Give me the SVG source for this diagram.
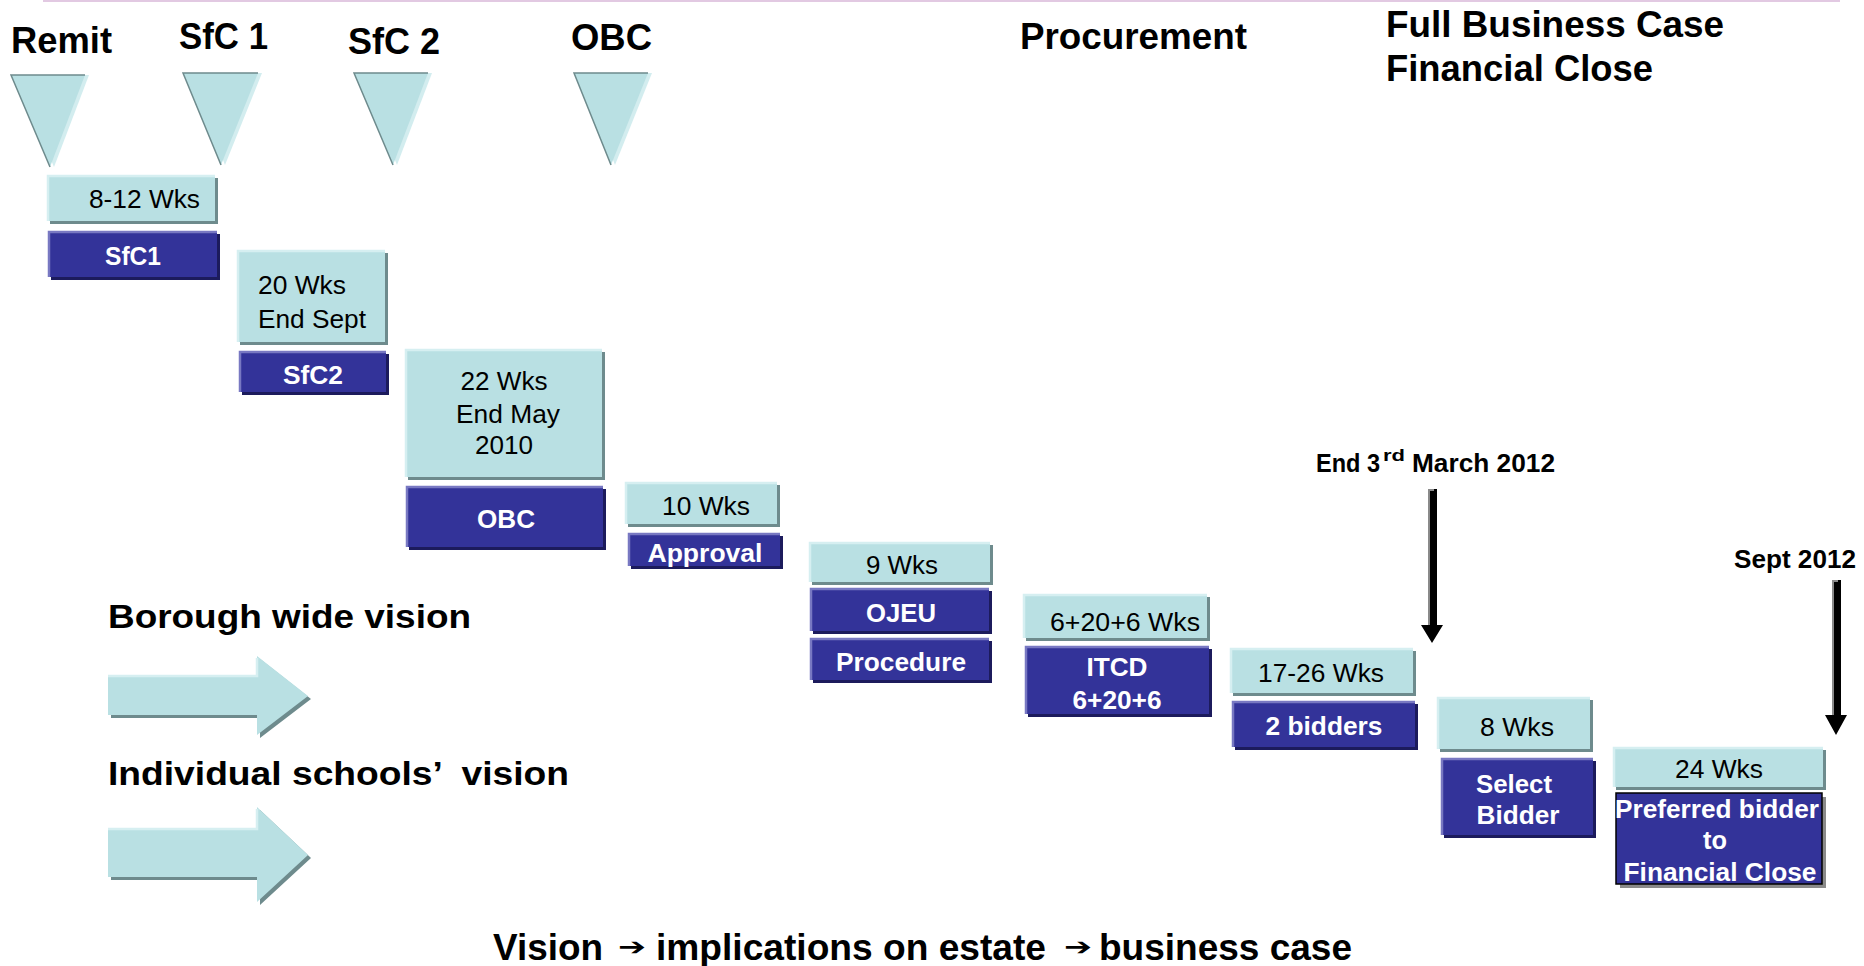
<svg xmlns="http://www.w3.org/2000/svg" width="1864" height="966" viewBox="0 0 1864 966">
<style>
text{font-family:"Liberation Sans",Arial,Helvetica,sans-serif;}
.t{font-size:36px;font-weight:bold;fill:#000;}
.lw{font-size:26px;fill:#000;}
.dw{font-size:26px;font-weight:bold;fill:#fff;}
.mk{font-size:25px;font-weight:bold;fill:#000;}
.vs{font-size:34px;font-weight:bold;fill:#000;}
.bt{font-size:37px;font-weight:bold;fill:#000;}
.ar{font-family:"DejaVu Sans",sans-serif;font-size:24px;fill:#000;}
.lf{fill:#b9e0e3;}
.ls{fill:#6e8b8d;}
.lh{fill:none;stroke:#d6eff1;stroke-width:2.5;}
.df{fill:#333399;}
.ds{fill:#1c1b5c;}
.dh{fill:none;stroke:#7878c2;stroke-width:2.5;}
.tri{fill:#b9e0e3;}
.trs{fill:#d3edef;}
.tre{fill:none;stroke:#6e8b8d;stroke-width:1.5;}
.blk{fill:#000;}
.bhl{fill:none;stroke:#8a8a8a;stroke-width:2;}
</style>

<line x1="43" y1="1" x2="1840" y2="1" stroke="#e2c9e2" stroke-width="2"/>

<g id="headers">
<text class="t" x="11" y="53" textLength="101" lengthAdjust="spacingAndGlyphs">Remit</text>
<text class="t" x="179" y="49" textLength="89" lengthAdjust="spacingAndGlyphs">SfC 1</text>
<text class="t" x="348" y="54" textLength="92" lengthAdjust="spacingAndGlyphs">SfC 2</text>
<text class="t" x="571" y="50" textLength="81" lengthAdjust="spacingAndGlyphs">OBC</text>
<text class="t" x="1020" y="49" textLength="227" lengthAdjust="spacingAndGlyphs">Procurement</text>
<text class="t" x="1386" y="37" textLength="338" lengthAdjust="spacingAndGlyphs">Full Business Case</text>
<text class="t" x="1386" y="81" textLength="267" lengthAdjust="spacingAndGlyphs">Financial Close</text>
</g>

<g id="tri-remit">
<polygon class="trs" points="15,75 89,75 54,167"/>
<polygon class="tri" points="11,75 85,75 50,167"/>
<polyline class="tre" points="85,75 11,75 50,167"/>
</g>
<g id="tri-sfc1">
<polygon class="trs" points="187,73 262,73 225,165"/>
<polygon class="tri" points="183,73 258,73 221,165"/>
<polyline class="tre" points="258,73 183,73 221,165"/>
</g>
<g id="tri-sfc2">
<polygon class="trs" points="358,73 432,73 397,165"/>
<polygon class="tri" points="354,73 428,73 393,165"/>
<polyline class="tre" points="428,73 354,73 393,165"/>
</g>
<g id="tri-obc">
<polygon class="trs" points="578,73 652,73 615,165"/>
<polygon class="tri" points="574,73 648,73 611,165"/>
<polyline class="tre" points="648,73 574,73 611,165"/>
</g>

<g id="box-8-12wks">
<rect class="ls" x="50" y="178" width="168" height="46"/>
<rect class="lf" x="47" y="175" width="168" height="46"/>
<path class="lh" d="M48,221V176H215"/>
<text class="lw" x="89" y="208" textLength="111" lengthAdjust="spacingAndGlyphs">8-12 Wks</text>
</g>
<g id="box-sfc1">
<rect class="ds" x="51" y="234" width="169" height="46"/>
<rect class="df" x="48" y="231" width="169" height="46"/>
<path class="dh" d="M49,277V232H217"/>
<text class="dw" x="133" y="265" text-anchor="middle" textLength="56" lengthAdjust="spacingAndGlyphs">SfC1</text>
</g>

<g id="box-20wks">
<rect class="ls" x="240" y="253" width="148" height="92"/>
<rect class="lf" x="237" y="250" width="148" height="92"/>
<path class="lh" d="M238,342V251H385"/>
<text class="lw" x="258" y="294" textLength="88" lengthAdjust="spacingAndGlyphs">20 Wks</text>
<text class="lw" x="258" y="328" textLength="108" lengthAdjust="spacingAndGlyphs">End Sept</text>
</g>
<g id="box-sfc2">
<rect class="ds" x="242" y="354" width="147" height="41"/>
<rect class="df" x="239" y="351" width="147" height="41"/>
<path class="dh" d="M240,392V352H386"/>
<text class="dw" x="313" y="384" text-anchor="middle" textLength="60" lengthAdjust="spacingAndGlyphs">SfC2</text>
</g>

<g id="box-22wks">
<rect class="ls" x="408" y="352" width="197" height="128"/>
<rect class="lf" x="405" y="349" width="197" height="128"/>
<path class="lh" d="M406,477V350H602"/>
<text class="lw" x="504" y="390" text-anchor="middle" textLength="87" lengthAdjust="spacingAndGlyphs">22 Wks</text>
<text class="lw" x="508" y="423" text-anchor="middle" textLength="104" lengthAdjust="spacingAndGlyphs">End May</text>
<text class="lw" x="504" y="454" text-anchor="middle" textLength="58" lengthAdjust="spacingAndGlyphs">2010</text>
</g>
<g id="box-obc">
<rect class="ds" x="409" y="489" width="197" height="61"/>
<rect class="df" x="406" y="486" width="197" height="61"/>
<path class="dh" d="M407,547V487H603"/>
<text class="dw" x="506" y="528" text-anchor="middle" textLength="58" lengthAdjust="spacingAndGlyphs">OBC</text>
</g>

<g id="box-10wks">
<rect class="ls" x="628" y="485" width="152" height="42"/>
<rect class="lf" x="625" y="482" width="152" height="42"/>
<path class="lh" d="M626,524V483H777"/>
<text class="lw" x="706" y="515" text-anchor="middle" textLength="88" lengthAdjust="spacingAndGlyphs">10 Wks</text>
</g>
<g id="box-approval">
<rect class="ds" x="631" y="536" width="152" height="33"/>
<rect class="df" x="628" y="533" width="152" height="33"/>
<path class="dh" d="M629,566V534H780"/>
<text class="dw" x="705" y="562" text-anchor="middle" textLength="115" lengthAdjust="spacingAndGlyphs">Approval</text>
</g>

<g id="box-9wks">
<rect class="ls" x="812" y="545" width="181" height="40"/>
<rect class="lf" x="809" y="542" width="181" height="40"/>
<path class="lh" d="M810,582V543H990"/>
<text class="lw" x="902" y="574" text-anchor="middle" textLength="72" lengthAdjust="spacingAndGlyphs">9 Wks</text>
</g>
<g id="box-ojeu">
<rect class="ds" x="813" y="591" width="179" height="43"/>
<rect class="df" x="810" y="588" width="179" height="43"/>
<path class="dh" d="M811,631V589H989"/>
<text class="dw" x="901" y="622" text-anchor="middle" textLength="70" lengthAdjust="spacingAndGlyphs">OJEU</text>
</g>
<g id="box-procedure">
<rect class="ds" x="813" y="641" width="179" height="42"/>
<rect class="df" x="810" y="638" width="179" height="42"/>
<path class="dh" d="M811,680V639H989"/>
<text class="dw" x="901" y="671" text-anchor="middle" textLength="130" lengthAdjust="spacingAndGlyphs">Procedure</text>
</g>

<g id="box-6-20-6wks">
<rect class="ls" x="1026" y="597" width="184" height="44"/>
<rect class="lf" x="1023" y="594" width="184" height="44"/>
<path class="lh" d="M1024,638V595H1207"/>
<text class="lw" x="1125" y="631" text-anchor="middle" textLength="150" lengthAdjust="spacingAndGlyphs">6+20+6 Wks</text>
</g>
<g id="box-itcd">
<rect class="ds" x="1028" y="649" width="184" height="68"/>
<rect class="df" x="1025" y="646" width="184" height="68"/>
<path class="dh" d="M1026,714V647H1209"/>
<text class="dw" x="1117" y="676" text-anchor="middle" textLength="61" lengthAdjust="spacingAndGlyphs">ITCD</text>
<text class="dw" x="1117" y="709" text-anchor="middle" textLength="89" lengthAdjust="spacingAndGlyphs">6+20+6</text>
</g>

<g id="box-17-26wks">
<rect class="ls" x="1233" y="651" width="183" height="45"/>
<rect class="lf" x="1230" y="648" width="183" height="45"/>
<path class="lh" d="M1231,693V649H1413"/>
<text class="lw" x="1321" y="682" text-anchor="middle" textLength="126" lengthAdjust="spacingAndGlyphs">17-26 Wks</text>
</g>
<g id="box-2bidders">
<rect class="ds" x="1235" y="704" width="183" height="46"/>
<rect class="df" x="1232" y="701" width="183" height="46"/>
<path class="dh" d="M1233,747V702H1415"/>
<text class="dw" x="1324" y="735" text-anchor="middle" textLength="117" lengthAdjust="spacingAndGlyphs">2 bidders</text>
</g>

<g id="box-8wks">
<rect class="ls" x="1440" y="700" width="153" height="52"/>
<rect class="lf" x="1437" y="697" width="153" height="52"/>
<path class="lh" d="M1438,749V698H1590"/>
<text class="lw" x="1517" y="736" text-anchor="middle" textLength="74" lengthAdjust="spacingAndGlyphs">8 Wks</text>
</g>
<g id="box-select-bidder">
<rect class="ds" x="1444" y="761" width="152" height="77"/>
<rect class="df" x="1441" y="758" width="152" height="77"/>
<path class="dh" d="M1442,835V759H1593"/>
<text class="dw" x="1514" y="793" text-anchor="middle" textLength="76" lengthAdjust="spacingAndGlyphs">Select</text>
<text class="dw" x="1518" y="824" text-anchor="middle" textLength="83" lengthAdjust="spacingAndGlyphs">Bidder</text>
</g>

<g id="box-24wks">
<rect class="ls" x="1616" y="750" width="210" height="40"/>
<rect class="lf" x="1613" y="747" width="210" height="40"/>
<path class="lh" d="M1614,787V748H1823"/>
<text class="lw" x="1719" y="778" text-anchor="middle" textLength="88" lengthAdjust="spacingAndGlyphs">24 Wks</text>
</g>
<g id="box-preferred">
<rect x="1620" y="797" width="206" height="91" fill="#8a8a8a"/>
<rect class="df" x="1616" y="793" width="206" height="91" stroke="#000" stroke-width="1.5"/>
<text class="dw" x="1717" y="818" text-anchor="middle" textLength="204" lengthAdjust="spacingAndGlyphs">Preferred bidder</text>
<text class="dw" x="1715" y="849" text-anchor="middle" textLength="24" lengthAdjust="spacingAndGlyphs">to</text>
<text class="dw" x="1720" y="881" text-anchor="middle" textLength="193" lengthAdjust="spacingAndGlyphs">Financial Close</text>
</g>

<g id="marker-march">
<text class="mk" x="1316" y="472" textLength="64" lengthAdjust="spacingAndGlyphs">End 3</text>
<text class="mk" x="1383" y="461" style="font-size:16px" textLength="22" lengthAdjust="spacingAndGlyphs">rd</text>
<text class="mk" x="1412" y="472" textLength="143" lengthAdjust="spacingAndGlyphs">March 2012</text>
</g>
<g id="marker-sept">
<text class="mk" x="1734" y="568" textLength="122" lengthAdjust="spacingAndGlyphs">Sept 2012</text>
</g>

<g id="connectors">
<polygon class="blk" points="1428,489 1437,489 1437,625 1443,625 1432,643 1421,625 1428,625"/>
<path class="bhl" d="M1429,625V490H1434"/>
<polygon class="blk" points="1832,580 1841,580 1841,715 1847,715 1836,735 1825,715 1832,715"/>
<path class="bhl" d="M1833,715V581H1838"/>
</g>

<g id="vision-borough">
<text class="vs" x="108" y="628" textLength="363" lengthAdjust="spacingAndGlyphs">Borough wide vision</text>
<polygon class="ls" points="111,678 260,678 260,659 311,699 260,738 260,718 111,718"/>
<polygon class="lf" points="108,675 257,675 257,656 308,696 257,735 257,715 108,715"/>
<path class="lh" d="M108,676H257V658"/>
</g>
<g id="vision-schools">
<text class="vs" x="108" y="785" textLength="461" lengthAdjust="spacingAndGlyphs" xml:space="preserve">Individual schools’  vision</text>
<polygon class="ls" points="111,831 260,831 260,810 311,858 260,905 260,880 111,880"/>
<polygon class="lf" points="108,828 257,828 257,807 308,855 257,902 257,877 108,877"/>
<path class="lh" d="M108,829H257V809"/>
</g>

<g id="footer">
<text class="bt" x="493" y="960" textLength="110" lengthAdjust="spacingAndGlyphs">Vision</text>
<text class="ar" x="618" y="955" textLength="28" lengthAdjust="spacingAndGlyphs">➔</text>
<text class="bt" x="656" y="960" textLength="390" lengthAdjust="spacingAndGlyphs">implications on estate</text>
<text class="ar" x="1064" y="955" textLength="28" lengthAdjust="spacingAndGlyphs">➔</text>
<text class="bt" x="1099" y="960" textLength="253" lengthAdjust="spacingAndGlyphs">business case</text>
</g>
</svg>
